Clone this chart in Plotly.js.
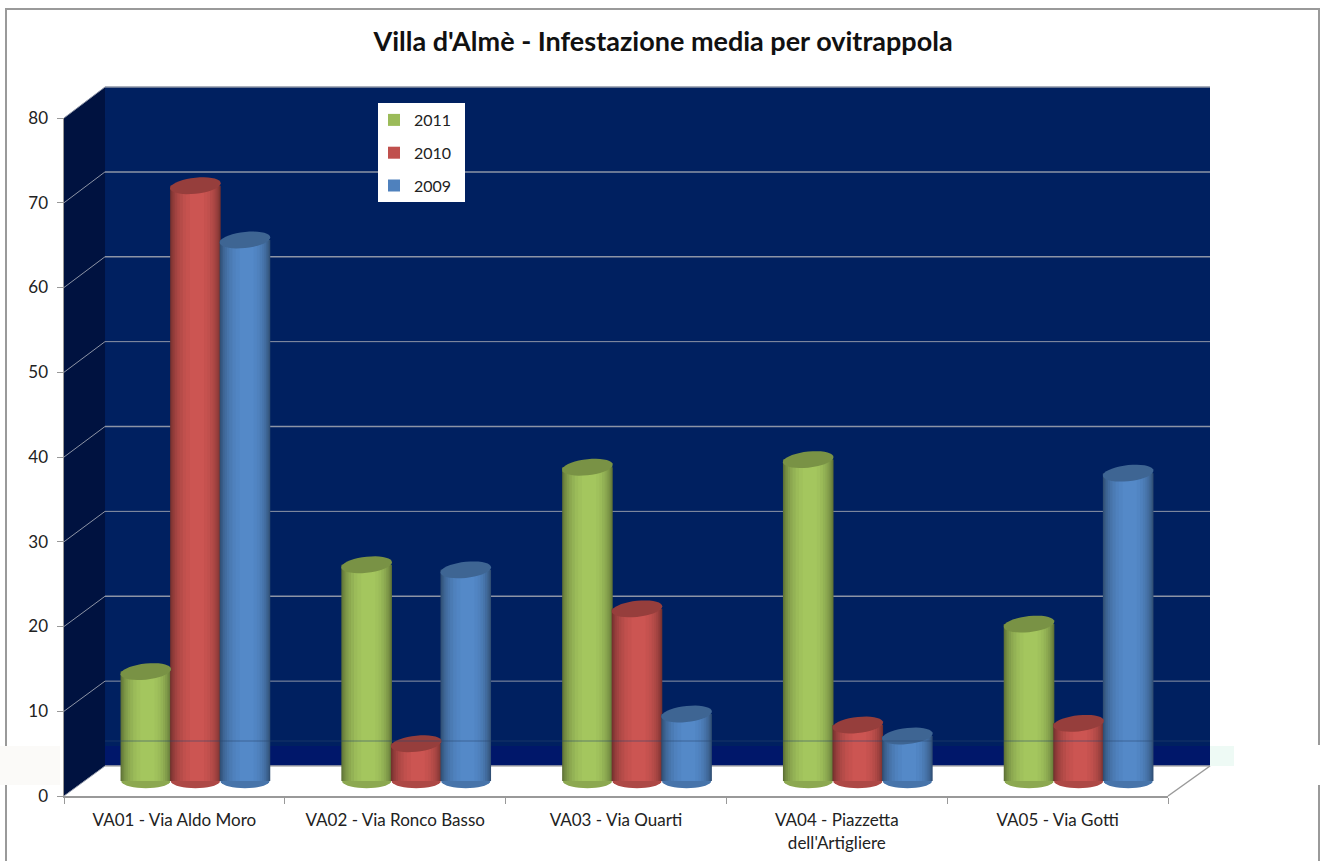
<!DOCTYPE html>
<html><head><meta charset="utf-8">
<script src="https://cdn.plot.ly/plotly-3.0.1.min.js"></script>
<style>html,body{margin:0;padding:0;background:#fff}#c{width:1324px;height:861px}</style></head>
<body><div id="c"></div>
<script>
const categories = ["VA01 - Via Aldo Moro","VA02 - Via Ronco Basso","VA03 - Via Quarti","VA04 - Piazzetta<br>dell'Artigliere","VA05 - Via Gotti"];
const values2011 = [12.9,25.5,37.0,37.9,18.5];
const values2010 = [70.2,4.4,20.3,6.6,6.8];
const values2009 = [63.8,24.9,7.9,5.3,36.3];
const yTicks = [0,10,20,30,40,50,60,70,80];
const seriesNames = ["2011","2010","2009"];
const seriesColors = ["#9BBB59","#C0504D","#4F81BD"];
const seriesValues = [values2011,values2010,values2009];

const W=1324,H=861;
const px=x=>x/W, py=y=>1-y/H;
const barW=0.229, centers=[-0.2245,0,0.2245];
const layers=[[1,.6],[.97,.66],[.93,.72],[.88,.78],[.82,.84],[.74,.9],[.65,.95],[.54,1],[.42,1.03],[.28,1.06]];
function shade(hex,f){const n=parseInt(hex.slice(1),16);const c=[n>>16,(n>>8)&255,n&255].map(v=>Math.min(255,Math.round(v*f)));return `rgb(${c.join(',')})`;}

const idx=categories.map((_,i)=>i);
const traces=[{type:'bar',x:categories,y:categories.map(()=>0),xaxis:'x',yaxis:'y',showlegend:false,hoverinfo:'skip',marker:{color:'rgba(0,0,0,0)'}}];
seriesValues.forEach((vals,s)=>{
  layers.forEach(([wf,f])=>{
    const w=barW*wf;
    traces.push({type:'bar',x:idx,y:vals,xaxis:'x2',yaxis:'y2',name:seriesNames[s],
      width:w,offset:centers[s]-w/2+(1-wf)*0.01,
      marker:{color:f===1?seriesColors[s]:shade(seriesColors[s],f),line:{width:0}},
      legendgroup:seriesNames[s],showlegend:f===1,hoverinfo:'skip'});
  });
});

function ellipsePath(cx,cy,rx,ry,tilt){
  let d='';
  for(let i=0;i<36;i++){const t=i/36*2*Math.PI;
    const ex=rx*Math.cos(t), ey=ry*Math.sin(t)+tilt*Math.cos(t);
    d+=(i?'L':'M')+(cx+ex).toFixed(4)+','+(cy+ey).toFixed(3);}
  return d+'Z';
}
const poly=(pts)=>'M'+pts.map(p=>px(p[0]).toFixed(5)+','+py(p[1]).toFixed(5)).join('L')+'Z';
const P={xref:'paper',yref:'paper'};
const wallFill='#002060', sideFill='#001240';
const shapes=[
 {...P,type:'rect',x0:px(6),x1:px(1319),y0:py(9),y1:py(866),line:{color:'#9a9a9a',width:2},fillcolor:'rgba(0,0,0,0)',layer:'below'},
 {...P,type:'path',path:poly([[105,87],[1210,87],[1210,766],[105,766]]),fillcolor:wallFill,line:{width:0},layer:'below'},
 {...P,type:'path',path:poly([[64,118],[105,87],[105,766],[64,796]]),fillcolor:sideFill,line:{width:0},layer:'below'},
 {...P,type:'rect',x0:px(105),x1:px(1210),y0:py(746),y1:py(766),fillcolor:'#00176a',line:{width:0},layer:'below'},
 {...P,type:'path',path:poly([[64,796],[105,766],[1210,766],[1168,796]]),fillcolor:'#ffffff',line:{width:0},layer:'below'},
 {...P,type:'rect',x0:px(0),x1:px(60),y0:py(746),y1:py(785),fillcolor:'#fbfaf8',line:{width:0},layer:'below'},
 {...P,type:'rect',x0:px(1210),x1:px(1324),y0:py(745),y1:py(785),fillcolor:'#ffffff',line:{width:0},layer:'below'},
 {...P,type:'rect',x0:px(1210),x1:px(1234),y0:py(746),y1:py(766),fillcolor:'#eefaf5',line:{width:0},layer:'below'},
];
const gridW=[1.5,1,1.5,1,1.5,1,1.5,1.5,1.5];
yTicks.forEach((v,i)=>{
  const back=766-v*8.4875, front=796-v*8.475;
  shapes.push({...P,type:'line',x0:px(105),x1:px(1210),y0:py(back),y1:py(back),line:{color:i?'#8d94a6':'#b0b0b0',width:gridW[i]},layer:'below'});
  shapes.push({...P,type:'line',x0:px(64),x1:px(105),y0:py(front),y1:py(back),line:{color:'#8d94a6',width:1},layer:'below'});
});
shapes.push({...P,type:'line',x0:px(1168),x1:px(1210),y0:py(796),y1:py(766),line:{color:'#9a9a9a',width:1.5},layer:'below'});
// white box behind the legend
shapes.push({...P,type:'rect',x0:px(378),x1:px(465),y0:py(103),y1:py(202),fillcolor:'#ffffff',line:{width:0},layer:'below'});
const rx=barW/2, ry=0.95, tilt=0.3;
seriesValues.forEach((vals,s)=>{
  vals.forEach((v,i)=>{
    const cx=i+centers[s];
    shapes.push({type:'path',xref:'x2',yref:'y2',path:ellipsePath(cx,v,rx,ry,tilt),fillcolor:shade(seriesColors[s],.78),line:{width:0},layer:'above'});
    shapes.push({type:'path',xref:'x2',yref:'y2',path:ellipsePath(cx,0,rx*.97,.85,0),fillcolor:shade(seriesColors[s],.9),line:{width:0},layer:'below'});
  });
});
// scan-band artefact of the source image: a thin line and the cut through the first label line
shapes.push({...P,type:'rect',x0:px(70),x1:px(1160),y0:py(826),y1:py(833),fillcolor:'#ffffff',line:{width:0},layer:'above'});
shapes.push({...P,type:'line',x0:px(105),x1:px(1210),y0:py(741),y1:py(741),line:{color:'rgba(40,70,110,.55)',width:1},layer:'above'});

const font='Lato, Carlito, sans-serif';
const layout={width:W,height:H,margin:{l:0,r:0,t:0,b:0,pad:0},paper_bgcolor:'#fff',plot_bgcolor:'rgba(0,0,0,0)',
 title:{text:"Villa d'Almè - Infestazione media per ovitrappola",font:{family:font,size:27,color:'#111',weight:700},x:663/W,xanchor:'center',y:1-42/H,yanchor:'middle'},
 barmode:'overlay',
 xaxis:{domain:[px(64),px(1168)],type:'category',categoryorder:'array',categoryarray:categories,range:[-0.5,4.5],showgrid:false,zeroline:false,showline:true,linecolor:'#999',linewidth:2,ticks:'outside',ticklen:6,tickcolor:'#999',tickson:'boundaries',ticklabelstandoff:8,tickfont:{family:font,size:17,color:'#222'},tickangle:0,anchor:'y'},
 yaxis:{domain:[py(796),py(118)],range:[0,80],tickvals:yTicks,showgrid:false,zeroline:false,showline:true,linecolor:'#999',linewidth:1.5,ticks:'outside',ticklen:6,tickcolor:'#999',ticklabelstandoff:5,tickfont:{family:font,size:17,color:'#222'},anchor:'x'},
 xaxis2:{domain:[px(85),px(1189)],range:[-0.5,4.5],visible:false,anchor:'y2'},
 yaxis2:{domain:[py(796),py(103)],range:[-15/8.48,678/8.48],visible:false,anchor:'x2'},
 legend:{x:px(374),y:py(103),xanchor:'left',yanchor:'top',bgcolor:'rgba(0,0,0,0)',borderwidth:0,traceorder:'grouped',tracegroupgap:9,font:{family:font,size:16,color:'#222'},itemwidth:30},
 shapes:shapes,showlegend:true};
Plotly.newPlot('c',traces,layout,{displayModeBar:false,staticPlot:true});
</script></body></html>
